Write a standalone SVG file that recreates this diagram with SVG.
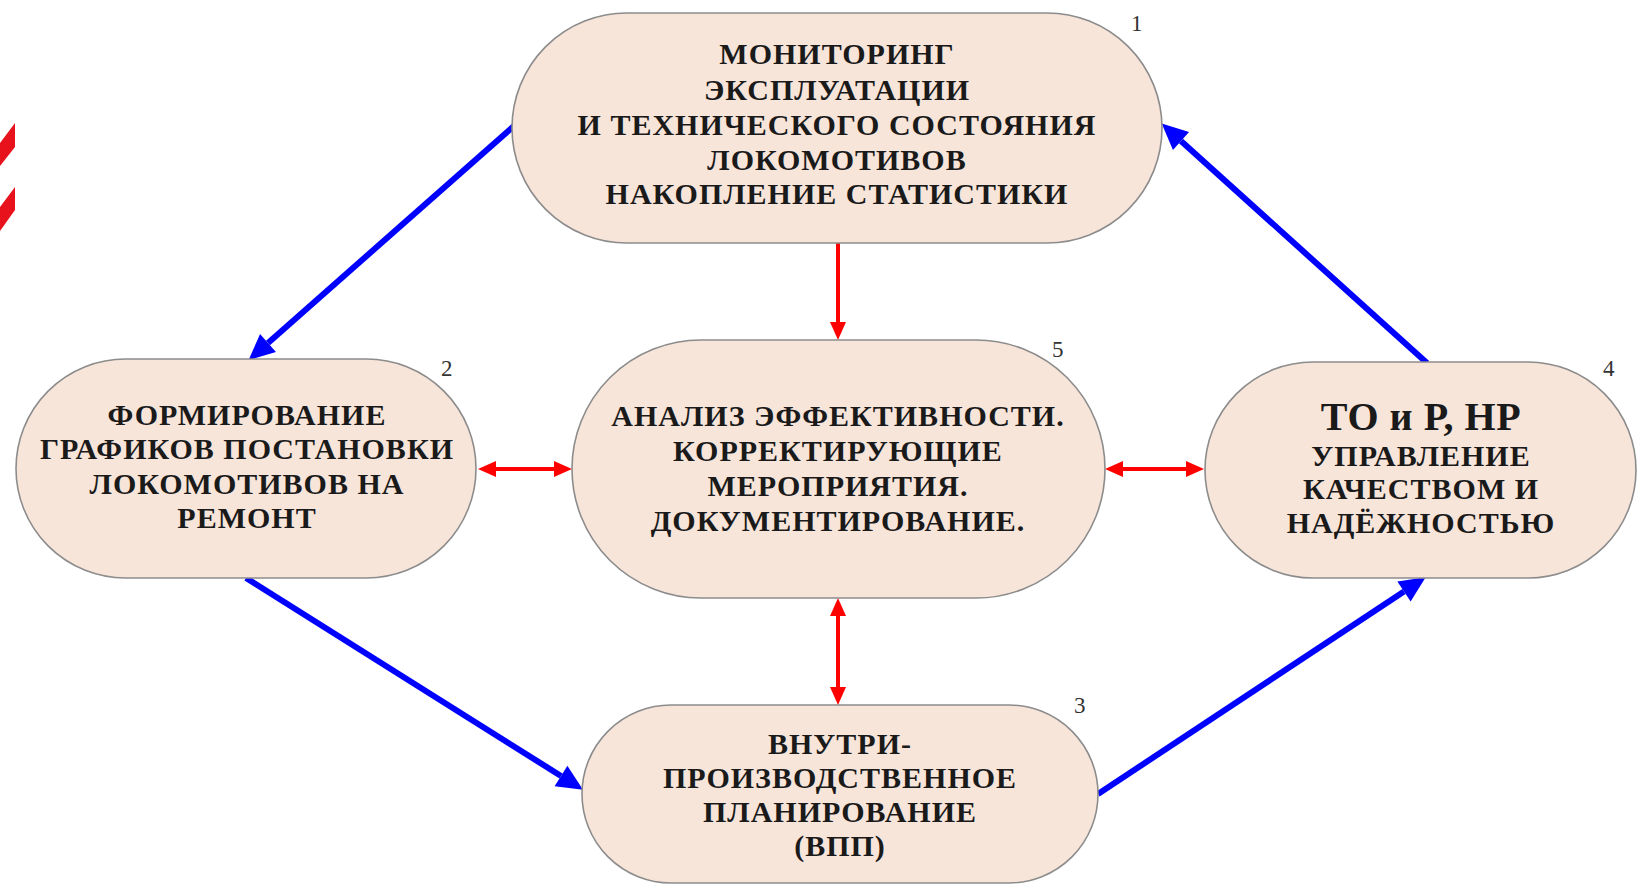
<svg xmlns="http://www.w3.org/2000/svg" width="1639" height="886" viewBox="0 0 1639 886">
<style>
.node{fill:#f8e5da;stroke:#8c8c8c;stroke-width:1.6}
.t{font-family:"Liberation Serif","Times New Roman",serif;font-weight:bold;font-size:30px;letter-spacing:1px;fill:#1a1a1a;text-anchor:middle}
.big{font-size:40px;letter-spacing:0.5px}
.num{font-family:"Liberation Serif","Times New Roman",serif;font-size:23px;fill:#333}
.blue{stroke:#0000ff;stroke-width:6;fill:none}
.red{stroke:#ff0000;stroke-width:4;fill:none}
</style>
<defs>
<marker id="ab" markerUnits="userSpaceOnUse" markerWidth="26" markerHeight="24" refX="0" refY="12" orient="auto" overflow="visible">
<path d="M0,0 L26,12 L0,24 z" fill="#0000ff"/>
</marker>
<marker id="ar" markerUnits="userSpaceOnUse" markerWidth="18" markerHeight="16" refX="0" refY="8" orient="auto-start-reverse" overflow="visible">
<path d="M0,0 L18,8 L0,16 z" fill="#ff0000"/>
</marker>
</defs>
<rect width="1639" height="886" fill="#ffffff"/>
<g id="stripes" fill="#e8121c">
<polygon points="0,143 15,123 15,147 0,166"/>
<polygon points="0,207 15,187 15,210 0,231"/>
</g>
<g id="connectors">
<line class="blue" x1="515" y1="125" x2="268" y2="343" marker-end="url(#ab)"/>
<line class="blue" x1="246" y1="578" x2="561" y2="776" marker-end="url(#ab)"/>
<line class="blue" x1="1098" y1="794" x2="1404" y2="591.5" marker-end="url(#ab)"/>
<line class="blue" x1="1427" y1="363" x2="1181" y2="141" marker-end="url(#ab)"/>
<line class="red" x1="838" y1="243" x2="838" y2="322" marker-end="url(#ar)"/>
<line class="red" x1="496" y1="469" x2="554" y2="469" marker-start="url(#ar)" marker-end="url(#ar)"/>
<line class="red" x1="1123" y1="469" x2="1186" y2="469" marker-start="url(#ar)" marker-end="url(#ar)"/>
<line class="red" x1="838" y1="616" x2="838" y2="687" marker-start="url(#ar)" marker-end="url(#ar)"/>
</g>
<g id="node1">
<rect class="node" x="512" y="13" width="650" height="230" rx="115" ry="115"/>
<text class="t" x="837" y="64">МОНИТОРИНГ</text>
<text class="t" x="837" y="100">ЭКСПЛУАТАЦИИ</text>
<text class="t" x="837" y="135">И ТЕХНИЧЕСКОГО СОСТОЯНИЯ</text>
<text class="t" x="837" y="170">ЛОКОМОТИВОВ</text>
<text class="t" x="837" y="204">НАКОПЛЕНИЕ СТАТИСТИКИ</text>
<text class="num" x="1131" y="31">1</text>
</g>
<g id="node2">
<rect class="node" x="16" y="359" width="460" height="219" rx="109.5" ry="109.5"/>
<text class="t" x="247" y="425">ФОРМИРОВАНИЕ</text>
<text class="t" x="247" y="459">ГРАФИКОВ ПОСТАНОВКИ</text>
<text class="t" x="247" y="494">ЛОКОМОТИВОВ НА</text>
<text class="t" x="247" y="528">РЕМОНТ</text>
<text class="num" x="441" y="376">2</text>
</g>
<g id="node5">
<rect class="node" x="572" y="340" width="533" height="258" rx="129" ry="129"/>
<text class="t" x="838" y="426">АНАЛИЗ ЭФФЕКТИВНОСТИ.</text>
<text class="t" x="838" y="461">КОРРЕКТИРУЮЩИЕ</text>
<text class="t" x="838" y="496">МЕРОПРИЯТИЯ.</text>
<text class="t" x="838" y="531">ДОКУМЕНТИРОВАНИЕ.</text>
<text class="num" x="1052" y="357">5</text>
</g>
<g id="node4">
<rect class="node" x="1205" y="362" width="431" height="216" rx="108" ry="108"/>
<text class="t big" x="1421" y="430">ТО и Р, НР</text>
<text class="t" x="1421" y="466">УПРАВЛЕНИЕ</text>
<text class="t" x="1421" y="499">КАЧЕСТВОМ И</text>
<text class="t" x="1421" y="533">НАДЁЖНОСТЬЮ</text>
<text class="num" x="1603" y="376">4</text>
</g>
<g id="node3">
<rect class="node" x="582" y="705" width="516" height="178" rx="89" ry="89"/>
<text class="t" x="840" y="754">ВНУТРИ-</text>
<text class="t" x="840" y="788">ПРОИЗВОДСТВЕННОЕ</text>
<text class="t" x="840" y="822">ПЛАНИРОВАНИЕ</text>
<text class="t" x="840" y="856">(ВПП)</text>
<text class="num" x="1074" y="713">3</text>
</g>
</svg>
